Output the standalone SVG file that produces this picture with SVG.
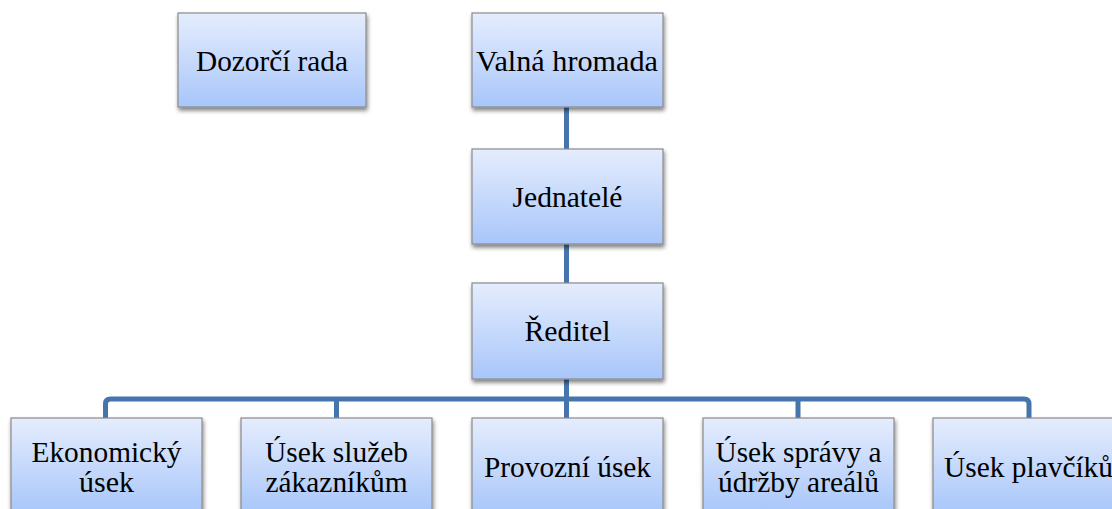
<svg xmlns="http://www.w3.org/2000/svg" width="1112" height="509" viewBox="0 0 1112 509">
<defs>
<linearGradient id="g" x1="0" y1="0" x2="0" y2="1">
<stop offset="0" stop-color="#e5edfd"/>
<stop offset="1" stop-color="#a8c6fa"/>
</linearGradient>
<filter id="sh" x="-10%" y="-10%" width="125%" height="130%">
<feGaussianBlur in="SourceAlpha" stdDeviation="2"/>
<feOffset dx="1" dy="3" result="b"/>
<feComponentTransfer><feFuncA type="linear" slope="0.5"/></feComponentTransfer>
<feMerge><feMergeNode/><feMergeNode in="SourceGraphic"/></feMerge>
</filter>
</defs>
<style>
.box{fill:url(#g);stroke:#8a8a8a;stroke-width:1.2;filter:url(#sh)}
.t{font-family:'Liberation Serif','DejaVu Serif',serif;font-size:30px;fill:#000;text-anchor:middle}
.c{fill:none;stroke:#4675ad;stroke-width:5}
</style>
<g id="connectors">
<path class="c" d="M566.5,107 V149"/>
<path class="c" d="M566.5,244 V283"/>
<path class="c" d="M566.5,379 V418"/>
<path class="c" d="M105.5,418 V404 Q105.5,399 110.5,399 H1024 Q1029,399 1029,404 V418"/>
<path class="c" d="M336.5,399 V418"/>
<path class="c" d="M798,399 V418"/>
</g>
<g id="dozorci"><rect class="box" x="178" y="13" width="188" height="94"/><text class="t" x="272" y="71" textLength="152" lengthAdjust="spacingAndGlyphs">Dozorčí rada</text></g>
<g id="valna"><rect class="box" x="472" y="13" width="191" height="94"/><text class="t" x="567" y="71" textLength="182" lengthAdjust="spacingAndGlyphs">Valná hromada</text></g>
<g id="jednatele"><rect class="box" x="472" y="149" width="191" height="95"/><text class="t" x="567.5" y="207" textLength="110" lengthAdjust="spacingAndGlyphs">Jednatelé</text></g>
<g id="reditel"><rect class="box" x="472" y="283" width="191" height="96"/><text class="t" x="567.5" y="341" textLength="86" lengthAdjust="spacingAndGlyphs">Ředitel</text></g>
<g id="ekonomicky"><rect class="box" x="11" y="418" width="191" height="95"/><text class="t" x="106.5" y="462" textLength="150" lengthAdjust="spacingAndGlyphs">Ekonomický</text><text class="t" x="106.5" y="492" textLength="55" lengthAdjust="spacingAndGlyphs">úsek</text></g>
<g id="sluzby"><rect class="box" x="241" y="418" width="191" height="95"/><text class="t" x="336.5" y="462" textLength="143" lengthAdjust="spacingAndGlyphs">Úsek služeb</text><text class="t" x="336.5" y="492" textLength="142" lengthAdjust="spacingAndGlyphs">zákazníkům</text></g>
<g id="provozni"><rect class="box" x="472" y="418" width="191" height="95"/><text class="t" x="567.5" y="477" textLength="167" lengthAdjust="spacingAndGlyphs">Provozní úsek</text></g>
<g id="sprava"><rect class="box" x="703" y="418" width="191" height="95"/><text class="t" x="798.5" y="462" textLength="166" lengthAdjust="spacingAndGlyphs">Úsek správy a</text><text class="t" x="798.5" y="492" textLength="161" lengthAdjust="spacingAndGlyphs">údržby areálů</text></g>
<g id="plavciky"><rect class="box" x="933" y="418" width="191" height="95"/><text class="t" x="1028.5" y="477" textLength="169" lengthAdjust="spacingAndGlyphs">Úsek plavčíků</text></g>
</svg>
